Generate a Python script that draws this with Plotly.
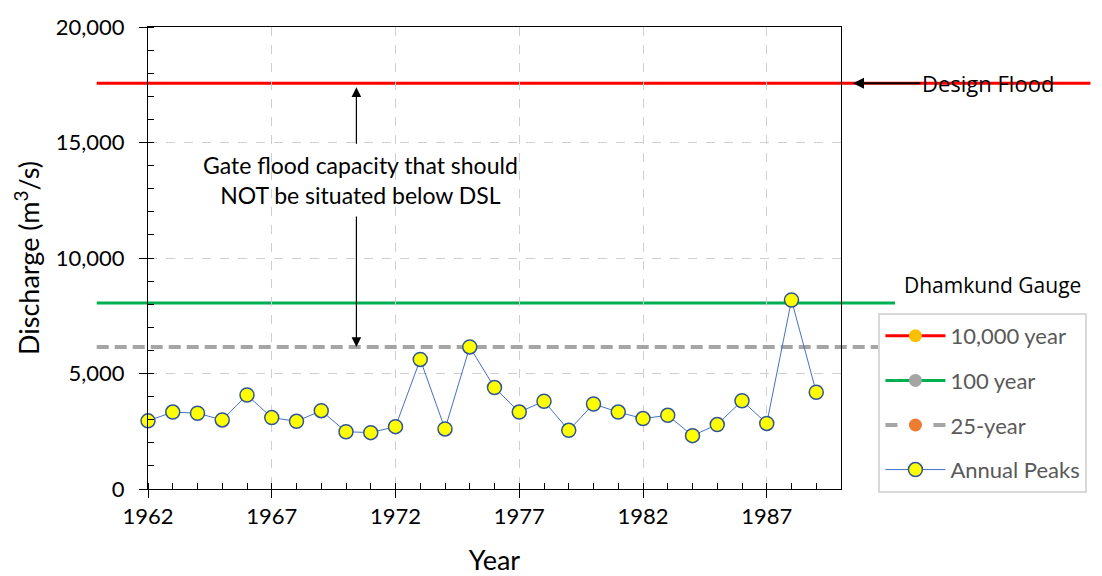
import plotly.graph_objects as go

# ---- data ----
years = list(range(1962, 1990))
annual_peaks = [2950, 3330, 3280, 2990, 4070, 3090, 2930, 3390, 2480, 2440,
                2700, 5610, 2600, 6150, 4390, 3330, 3800, 2540, 3680, 3330,
                3050, 3190, 2310, 2790, 3820, 2840, 8180, 4190]
design_flood = 17560   # 10,000 year
gauge_100yr = 8050     # 100 year (Dhamkund Gauge)
flood_25yr = 6150      # 25-year
x_ticks = [1962, 1967, 1972, 1977, 1982, 1987]
y_ticks = [0, 5000, 10000, 15000, 20000]
y_tick_text = ["0", "5,000", "10,000", "15,000", "20,000"]

FONT = "Lato"
ANNO_FONT = "Open Sans"

fig = go.Figure()

# legend-only traces for the reference lines
legend_specs = [
    ("10,000 year", "#FF0000", "solid", 3, "#FFC000"),
    ("100 year", "#00B050", "solid", 3, "#A5A5A5"),
    ("25-year", "#A5A5A5", "dash", 4, "#ED7D31"),
]
for i, (name, lc, dash, w, mc) in enumerate(legend_specs):
    fig.add_trace(go.Scatter(
        x=[None], y=[None], mode="lines+markers", name=name,
        line=dict(color=lc, width=w, dash=dash),
        marker=dict(color=mc, size=13, line=dict(width=0)),
        legendgroup=f"g{i}", showlegend=True))

fig.add_trace(go.Scatter(
    x=years, y=annual_peaks, mode="lines+markers", name="Annual Peaks",
    line=dict(color="#4472C4", width=1),
    marker=dict(color="#FFFF00", size=14, line=dict(color="#2F5597", width=1.5)),
    legendgroup="g3", cliponaxis=False))

# reference lines extending beyond the plot area
fig.add_shape(type="line", xref="paper", yref="y", x0=-0.074, x1=1.36,
              y0=design_flood, y1=design_flood, line=dict(color="#FF0000", width=3), layer="below")
fig.add_shape(type="line", xref="paper", yref="y", x0=-0.074, x1=1.078,
              y0=gauge_100yr, y1=gauge_100yr, line=dict(color="#00B050", width=3), layer="below")
fig.add_shape(type="line", xref="paper", yref="y", x0=-0.074, x1=1.06,
              y0=flood_25yr, y1=flood_25yr,
              line=dict(color="#A5A5A5", width=4, dash="12px,6px"), layer="below")

# annotations
fig.add_annotation(x=1.0173, xref="paper", y=design_flood, yref="y",
                   text="Design Flood", showarrow=True, ax=135, ay=0,
                   arrowhead=2, arrowsize=1.1, arrowwidth=2, arrowcolor="black",
                   font=dict(family=ANNO_FONT, size=22, color="black"))
fig.add_annotation(x=1.219, xref="paper", y=gauge_100yr, yref="y",
                   text="Dhamkund Gauge", showarrow=False, xanchor="center",
                   yanchor="bottom", yshift=2,
                   font=dict(family=ANNO_FONT, size=21, color="black"))
fig.add_annotation(x=1970.57, y=13380,
                   text="Gate flood capacity that should<br>NOT be situated below DSL",
                   showarrow=False, align="center",
                   font=dict(family=FONT, size=23, color="black"))
fig.add_annotation(x=1970.42, y=design_flood, text="", showarrow=True,
                   ax=0, ay=62, standoff=4, arrowhead=2, arrowsize=1.6,
                   arrowwidth=1.2, arrowcolor="black")
fig.add_annotation(x=1970.42, y=flood_25yr, text="", showarrow=True,
                   ax=0, ay=-132, arrowhead=2, arrowsize=1.6,
                   arrowwidth=1.2, arrowcolor="black")

fig.update_xaxes(
    range=[1962, 1990], tickmode="array", tickvals=x_ticks,
    ticks="outside", ticklen=8, tickcolor="black", tickwidth=1,
    showline=True, linecolor="black", linewidth=1, mirror=True,
    showgrid=True, gridcolor="#CFCFCF", griddash="dash", gridwidth=1,
    zeroline=False,
    minor=dict(dtick=1, tick0=1962, ticks="inside", ticklen=6, tickcolor="black", showgrid=False),
    tickfont=dict(family=FONT, size=22, color="black"),
    title=dict(text="Year", font=dict(family=FONT, size=27, color="black"), standoff=22),
)
fig.update_yaxes(
    range=[0, 20000], tickmode="array", tickvals=y_ticks, ticktext=y_tick_text,
    ticks="outside", ticklen=8, tickcolor="black", tickwidth=1,
    showline=True, linecolor="black", linewidth=1, mirror=True,
    showgrid=True, gridcolor="#CFCFCF", griddash="dash", gridwidth=1,
    zeroline=False, ticklabelstandoff=10,
    minor=dict(dtick=1000, tick0=0, ticks="inside", ticklen=6, tickcolor="black", showgrid=False),
    tickfont=dict(family=FONT, size=22, color="black"),
    title=dict(text="Discharge (m<sup>3</sup>/s)", font=dict(family=FONT, size=27, color="black"), standoff=8),
)

fig.update_layout(
    width=1102, height=576,
    margin=dict(l=140, r=269, t=19, b=95, autoexpand=False),
    paper_bgcolor="white", plot_bgcolor="white",
    showlegend=True,
    legend=dict(x=1.054, y=0.381, xanchor="left", yanchor="top",
                bgcolor="white", bordercolor="#D9D9D9", borderwidth=2,
                font=dict(family=FONT, size=22, color="#595959"),
                tracegroupgap=13, itemwidth=60, traceorder="grouped"),
)

fig.write_html("out.html")
